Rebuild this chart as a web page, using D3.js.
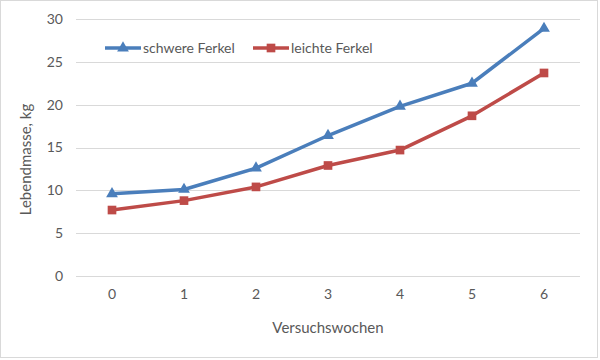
<!DOCTYPE html>
<html>
<head>
<meta charset="utf-8">
<script src="https://cdn.jsdelivr.net/npm/d3@7"></script>
<style>
  body { margin: 0; background: #fff; }
  text { font-family: Lato, "Open Sans", sans-serif; fill: #595959; }
</style>
</head>
<body>
<div id="chart"></div>
<script>
// data
const weeks = ["0", "1", "2", "3", "4", "5", "6"];
const schwere = [9.6, 10.1, 12.6, 16.4, 19.8, 22.5, 28.9];
const leichte = [7.7, 8.8, 10.4, 12.9, 14.7, 18.7, 23.7];
const yTicks = [0, 5, 10, 15, 20, 25, 30];

const width = 600, height = 360;
const margin = {top: 19, right: 20, bottom: 84, left: 76};

const svg = d3.select("#chart").append("svg")
    .attr("width", width)
    .attr("height", height);

// outer border
svg.append("rect")
    .attr("x", 0.5).attr("y", 0.5)
    .attr("width", width - 3).attr("height", height - 3)
    .attr("fill", "#fff")
    .attr("stroke", "#d9d9d9");

const x = d3.scaleBand()
    .domain(weeks)
    .range([margin.left, width - margin.right]);

const y = d3.scaleLinear()
    .domain([0, 30])
    .range([height - margin.bottom, margin.top]);

// gridlines
svg.append("g")
    .selectAll("line")
    .data(yTicks)
    .join("line")
    .attr("x1", margin.left)
    .attr("x2", width - margin.right)
    .attr("y1", d => Math.round(y(d)) + 0.5)
    .attr("y2", d => Math.round(y(d)) + 0.5)
    .attr("stroke", "#d9d9d9")
    .attr("stroke-width", 1);

// y axis labels
const yAxis = svg.append("g")
    .attr("transform", `translate(${margin.left - 13},0)`)
    .call(d3.axisLeft(y).tickValues(yTicks).tickSize(0).tickPadding(0));
yAxis.select(".domain").remove();
yAxis.selectAll("text")
    .style("font-size", "14px")
    .attr("fill", "#595959");

// x axis labels
const xAxis = svg.append("g")
    .attr("transform", `translate(0,${height - margin.bottom + 13})`)
    .call(d3.axisBottom(x).tickSize(0).tickPadding(0));
xAxis.select(".domain").remove();
xAxis.selectAll("text")
    .style("font-size", "14px")
    .attr("fill", "#595959");

// axis titles
svg.append("text")
    .attr("transform", `translate(31,${(margin.top + height - margin.bottom) / 2 + 12}) rotate(-90)`)
    .attr("text-anchor", "middle")
    .style("font-size", "15px")
    .text("Lebendmasse, kg");

svg.append("text")
    .attr("x", (margin.left + width - margin.right) / 2)
    .attr("y", 333)
    .attr("text-anchor", "middle")
    .style("font-size", "15px")
    .text("Versuchswochen");

const series = [
    {name: "schwere Ferkel", values: schwere, color: "#4a7ebb", marker: d3.symbolTriangle},
    {name: "leichte Ferkel", values: leichte, color: "#be4b48", marker: d3.symbolSquare}
];

const line = d3.line()
    .x((d, i) => x(weeks[i]) + x.bandwidth() / 2)
    .y(d => y(d));

series.forEach(s => {
    svg.append("path")
        .datum(s.values)
        .attr("fill", "none")
        .attr("stroke", s.color)
        .attr("stroke-width", 3.5)
        .attr("stroke-linejoin", "round")
        .attr("d", line);

    svg.append("g")
        .selectAll("path")
        .data(s.values)
        .join("path")
        .attr("transform", (d, i) => `translate(${x(weeks[i]) + x.bandwidth() / 2},${y(d)})`)
        .attr("d", d3.symbol().type(s.marker).size(s.marker === d3.symbolSquare ? 75 : 60))
        .attr("fill", s.color);
});

// legend
const legendX = [105, 253];
series.forEach((s, i) => {
    const g = svg.append("g").attr("transform", `translate(${legendX[i]},48)`);
    g.append("line")
        .attr("x1", 0).attr("x2", 36)
        .attr("stroke", s.color)
        .attr("stroke-width", 3.5);
    g.append("path")
        .attr("transform", "translate(18,0)")
        .attr("d", d3.symbol().type(s.marker).size(s.marker === d3.symbolSquare ? 75 : 60))
        .attr("fill", s.color);
    g.append("text")
        .attr("x", 38)
        .attr("y", 5)
        .style("font-size", "14px")
        .text(s.name);
});
</script>
</body>
</html>
